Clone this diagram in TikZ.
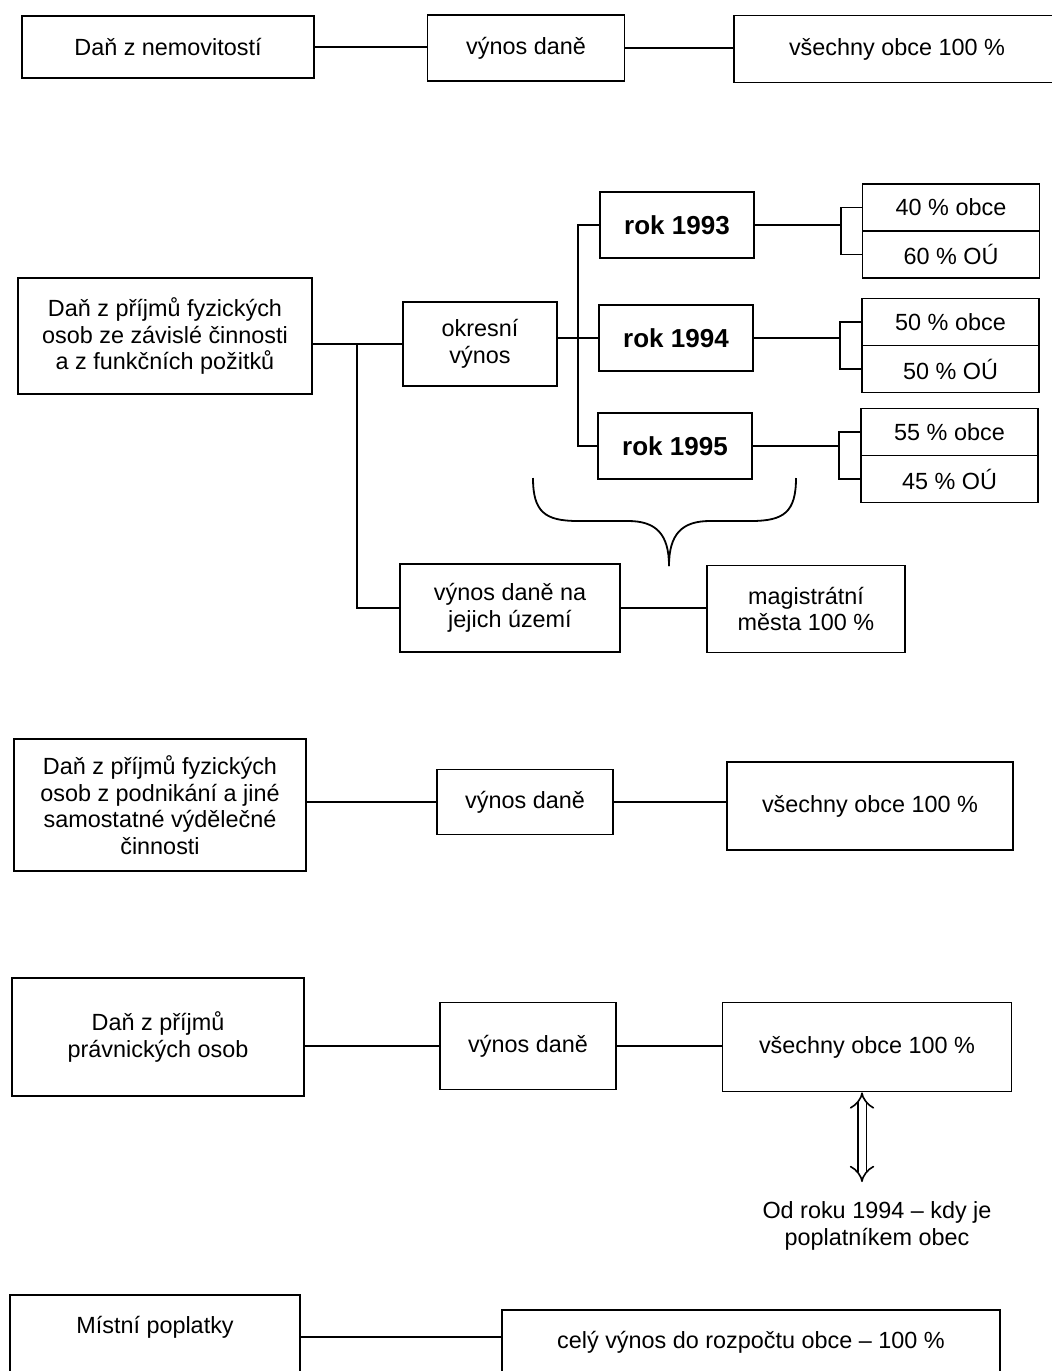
\documentclass[tikz,border=0pt]{standalone}
\usepackage{fontspec}
\setmainfont{Liberation Sans}
\usetikzlibrary{arrows.meta}
\tikzset{
  box/.style={draw, line width=0.9pt, inner sep=0pt, align=center, font=\fontsize{11.7}{13.3}\selectfont},
  rokbox/.style={box, minimum width=77pt, minimum height=33pt, font=\fontsize{13}{15}\selectfont\bfseries},
  cell/.style={box, minimum width=88.5pt, minimum height=23.5pt},
  wire/.style={line width=0.9pt},
  hollow/.style={double, double distance=3.5pt, line width=0.8pt, {Implies}-{Implies}},
}
\begin{document}
\begin{tikzpicture}[x=0.5pt, y=-0.5pt]
			\useasboundingbox (0,0) rectangle (1052,1371);
			%Dan z nemovitosti
			\node[box, minimum width=146pt, minimum height=31pt] (nemovitosti) at (168,47) {Daň z nemovitostí};
			\node[box, minimum width=98.5pt, minimum height=33pt] (vynosN) at (526,48) {výnos daně};
			\node[box, minimum width=163pt, minimum height=33.5pt] (obceN) at (897,49) {všechny obce 100 \%};
			\draw[wire] (nemovitosti.east) -- (nemovitosti.east -| vynosN.west);
			\draw[wire] (vynosN.east) -- (vynosN.east -| obceN.west);
			%Dan ze zavisle cinnosti
			\node[box, minimum width=147pt, minimum height=58pt] (zavisla) at (165,336) {Daň z příjmů fyzických\\osob ze závislé činnosti\\a z funkčních požitků};
			\node[box, minimum width=77pt, minimum height=42pt] (okresni) at (480,344) {okresní\\výnos};
			\coordinate (rozcesti) at (357,344);
			\coordinate (sbernice) at (578,338);
			\node[rokbox] (rok93) at (677,225) {rok 1993};
			\node[rokbox] (rok94) at (676,338) {rok 1994};
			\node[rokbox] (rok95) at (675,446) {rok 1995};
			\node[cell] (p93a) at (951,207.5) {40 \% obce};
			\node[cell] (p93b) at (951,254.5) {60 \% OÚ};
			\node[cell] (p94a) at (950.5,322) {50 \% obce};
			\node[cell] (p94b) at (950.5,369) {50 \% OÚ};
			\node[cell] (p95a) at (949.5,432) {55 \% obce};
			\node[cell] (p95b) at (949.5,479) {45 \% OÚ};
			\node[box, minimum width=110pt, minimum height=44pt] (uzemi) at (510,608) {výnos daně na\\jejich území};
			\node[box, minimum width=99pt, minimum height=43.5pt] (magistrat) at (806,609) {magistrátní\\města 100 \%};
			\draw[wire] (zavisla.east |- okresni) -- (okresni.west);
			\draw[wire] (rozcesti) |- (uzemi.west);
			\draw[wire] (uzemi.east) -- (uzemi.east -| magistrat.west);
			\draw[wire] (okresni.east |- sbernice) -- (rok94.west);
			\draw[wire] (rok93.west) -| (sbernice) |- (rok95.west);
			\draw[wire] (rok93.east) -- ([xshift=-10.5pt]rok93.east -| p93a.west);
			\draw[wire] (p93a.west) -- ++(-21,0) |- (p93b.west);
			\draw[wire] (rok94.east) -- ([xshift=-10.5pt]rok94.east -| p94a.west);
			\draw[wire] (p94a.west) -- ++(-21,0) |- (p94b.west);
			\draw[wire] (rok95.east) -- ([xshift=-10.5pt]rok95.east -| p95a.west);
			\draw[wire] (p95a.west) -- ++(-21,0) |- (p95b.west);
			%Brace
			\draw[wire] (533,478) .. controls (533,512) and (545,521) .. (578,521) -- (628,521) .. controls (656,521) and (669,534) .. (669,566);
			\draw[wire] (796,478) .. controls (796,512) and (784,521) .. (751,521) -- (710,521) .. controls (682,521) and (669,534) .. (669,566);
			%Dan z podnikani
			\node[box, minimum width=146pt, minimum height=66pt] (podnikani) at (160,805) {Daň z příjmů fyzických\\osob z podnikání a jiné\\samostatné výdělečné\\činnosti};
			\node[box, minimum width=88pt, minimum height=32.5pt] (vynosP) at (525,802) {výnos daně};
			\node[box, minimum width=143pt, minimum height=44pt] (obceP) at (870,806) {všechny obce 100 \%};
			\draw[wire] (podnikani.east |- vynosP) -- (vynosP.west);
			\draw[wire] (vynosP.east) -- (vynosP.east -| obceP.west);
			%Dan pravnickych osob
			\node[box, minimum width=146pt, minimum height=59pt] (pravnicke) at (158,1037) {Daň z příjmů\\právnických osob};
			\node[box, minimum width=88pt, minimum height=43.5pt] (vynosPr) at (528,1046) {výnos daně};
			\node[box, minimum width=144.5pt, minimum height=44.5pt] (obcePr) at (867,1047) {všechny obce 100 \%};
			\node[align=center, inner sep=0pt, font=\fontsize{11.7}{13.3}\selectfont] (pozn) at (877,1226) {Od roku 1994 -- kdy je\\poplatníkem obec};
			\coordinate (sipka) at (862,1182);
			\draw[wire] (pravnicke.east |- vynosPr) -- (vynosPr.west);
			\draw[wire] (vynosPr.east) -- (vynosPr.east -| obcePr.west);
			\draw[hollow] (obcePr.south -| sipka) -- (sipka);
			%Mistni poplatky
			\node[box, minimum width=145pt, minimum height=45pt, text depth=15pt] (poplatky) at (155,1340) {Místní poplatky};
			\node[box, minimum width=249pt, minimum height=40pt, text depth=10pt] (cely) at (751,1350) {celý výnos do rozpočtu obce -- 100 \%};
			\draw[wire] (poplatky.east |- 0,1337) -- (cely.west |- 0,1337);
		\end{tikzpicture}
\end{document}
